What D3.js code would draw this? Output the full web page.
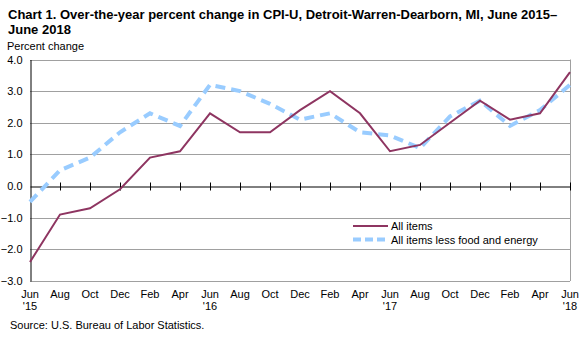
<!DOCTYPE html>
<html>
<head>
<meta charset="utf-8">
<script src="https://cdn.jsdelivr.net/npm/d3@7"></script>
<style>
  body { margin: 0; background: #fff; }
  svg { display: block; font-family: "Liberation Sans", Arial, sans-serif; }
</style>
</head>
<body>
<svg id="chart" width="587" height="337"></svg>
<script>
// bimonthly, Jun 2015 - Jun 2018
const months = ["Jun", "Aug", "Oct", "Dec", "Feb", "Apr", "Jun", "Aug", "Oct", "Dec",
  "Feb", "Apr", "Jun", "Aug", "Oct", "Dec", "Feb", "Apr", "Jun"];
const years = { 0: "'15", 6: "'16", 12: "'17", 18: "'18" };
const allItems = [-2.4, -0.9, -0.7, -0.1, 0.9, 1.1, 2.3, 1.7, 1.7, 2.4,
  3.0, 2.3, 1.1, 1.3, 2.0, 2.7, 2.1, 2.3, 3.6];
const coreItems = [-0.5, 0.5, 0.9, 1.7, 2.3, 1.9, 3.2, 3.0, 2.6, 2.1,
  2.3, 1.7, 1.6, 1.2, 2.2, 2.7, 1.9, 2.4, 3.2];
const yTicks = [-3, -2, -1, 0, 1, 2, 3, 4];

const svg = d3.select("#chart");
const margin = { top: 59.5, right: 17, bottom: 56, left: 30 };
const W = 587, H = 337;
const x = d3.scaleLinear().domain([0, months.length - 1]).range([margin.left, W - margin.right]);
const y = d3.scaleLinear().domain([-3, 4]).range([H - margin.bottom, margin.top]);

// title
const title = svg.append("text").attr("x", 8).attr("font-size", 13).attr("font-weight", "bold").attr("fill", "#000");
title.append("tspan").attr("x", 8).attr("y", 19).text("Chart 1. Over-the-year percent change in CPI-U, Detroit-Warren-Dearborn, MI, June 2015\u2013");
title.append("tspan").attr("x", 8).attr("y", 34).text("June 2018");

svg.append("text").attr("x", 7).attr("y", 50).attr("font-size", 11).text("Percent change");

// gridlines
svg.append("g").selectAll("line").data(yTicks.filter(d => d !== 0)).join("line")
  .attr("x1", x(0)).attr("x2", x(18))
  .attr("y1", d => Math.round(y(d)) + 0.5).attr("y2", d => Math.round(y(d)) + 0.5)
  .attr("stroke", "#a0a0a0").attr("stroke-width", 1);
// right border
svg.append("line").attr("x1", Math.round(x(18)) + 0.5).attr("x2", Math.round(x(18)) + 0.5)
  .attr("y1", y(4)).attr("y2", y(-3)).attr("stroke", "#a0a0a0");

// y axis
const yAxis = svg.append("g").attr("transform", `translate(${Math.round(x(0)) + 0.5},0)`)
  .call(d3.axisLeft(y).tickValues(yTicks).tickSize(0).tickPadding(8).tickFormat(d3.format(".1f")));
yAxis.select(".domain").attr("stroke", "#000");
yAxis.selectAll("text").attr("font-size", 11).attr("font-family", "Liberation Sans, Arial, sans-serif").attr("fill", "#000");

// zero line with ticks
const zeroY = Math.round(y(0)) + 0.5;
const xAxis = svg.append("g").attr("transform", `translate(0,${zeroY})`)
  .call(d3.axisBottom(x).tickValues(d3.range(1, 19)).tickSize(0).tickFormat(""));
xAxis.select(".domain").attr("stroke", "#000");
xAxis.selectAll(".tick line").attr("y1", -4).attr("y2", 4).attr("stroke", "#000");

// x labels
const lab = svg.append("g").attr("font-size", 11).attr("text-anchor", "middle");
lab.selectAll("text.m").data(months).join("text").attr("class", "m")
  .attr("x", (d, i) => x(i)).attr("y", 298).text(d => d);
lab.selectAll("text.yr").data(Object.entries(years)).join("text").attr("class", "yr")
  .attr("x", d => x(+d[0])).attr("y", 310).text(d => d[1]);

// lines
const line = d3.line().x((d, i) => x(i)).y(d => y(d));
svg.append("path").datum(coreItems).attr("d", line).attr("fill", "none")
  .attr("stroke", "#99ccff").attr("stroke-width", 4).attr("stroke-dasharray", "10,6");
svg.append("path").datum(allItems).attr("d", line).attr("fill", "none")
  .attr("stroke", "#8e3561").attr("stroke-width", 2);

// legend
const leg = svg.append("g").attr("font-size", 11);
leg.append("line").attr("x1", 353).attr("x2", 388).attr("y1", 226).attr("y2", 226)
  .attr("stroke", "#8e3561").attr("stroke-width", 2);
leg.append("text").attr("x", 391).attr("y", 230).text("All items");
leg.append("line").attr("x1", 353).attr("x2", 388).attr("y1", 239.5).attr("y2", 239.5)
  .attr("stroke", "#99ccff").attr("stroke-width", 4).attr("stroke-dasharray", "8,4");
leg.append("text").attr("x", 391).attr("y", 243.5).text("All items less food and energy");

svg.append("text").attr("x", 10).attr("y", 329).attr("font-size", 11).text("Source: U.S. Bureau of Labor Statistics.");
</script>
</body>
</html>
